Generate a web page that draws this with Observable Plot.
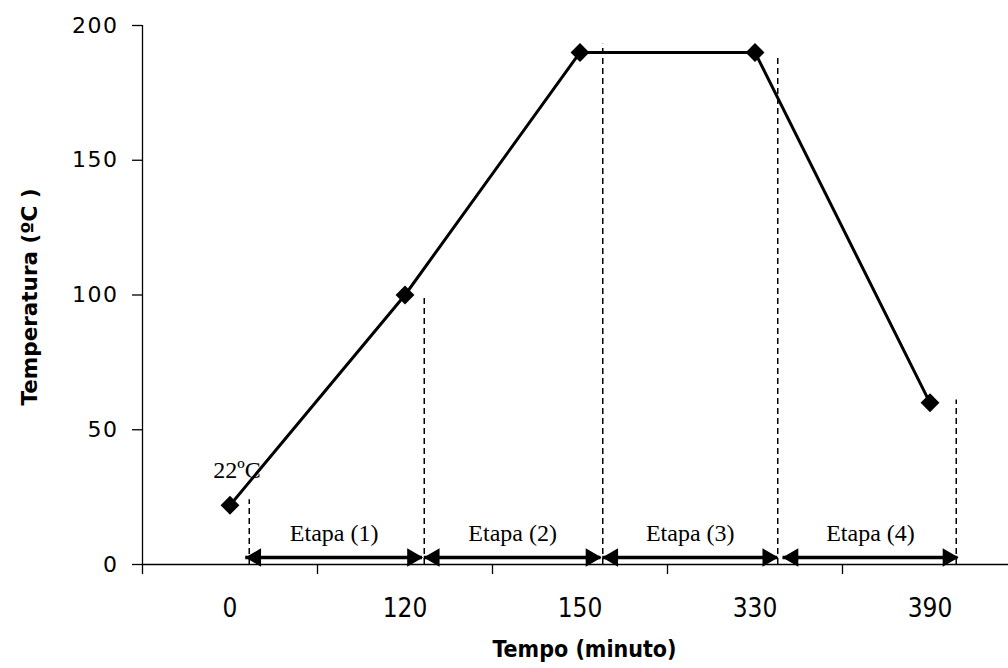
<!DOCTYPE html>
<html><head><meta charset="utf-8">
<script src="https://cdn.jsdelivr.net/npm/d3@7"></script>
<script src="https://cdn.jsdelivr.net/npm/@observablehq/plot@0.6"></script>
<style>
body{margin:0;background:#fff;}
#chart svg{display:block;}
g[aria-label="y-axis tick label"] text{letter-spacing:1.5px;}
</style></head><body><div id="chart"></div>
<script>
// categories (x) and values (y)
const tempo = ["0","120","150","330","390"];
const temperatura = [22,100,190,190,60];
const yTicks = [0,50,100,150,200];
// stages, positions expressed in category-index units
const etapas = ["Etapa (1)","Etapa (2)","Etapa (3)","Etapa (4)"];
const etapaInicio = [0.09,1.11,2.13,3.16];
const etapaFim = [1.10,2.12,3.13,4.16];
// dashed guides: position (category-index units) and top (ºC)
const guiaPos = [0.11,1.11,2.13,3.13,4.15];
const guiaTopo = [24,100,193,188,61];
const rotuloPonto = "22ºC";
const tituloX = "Tempo (minuto)";
const tituloY = "Temperatura (ºC )";

const pontos = tempo.map((t,i)=>({i, t, v: temperatura[i]}));
const fases = etapas.map((e,i)=>({e, x1: etapaInicio[i], x2: etapaFim[i], xm: (etapaInicio[i]+etapaFim[i])/2}));
const guias = guiaPos.map((x,i)=>({x, top: guiaTopo[i]}));
const limites = d3.range(tempo.length+1).map(k=>k-0.5);
const condensed = "'DejaVu Sans Condensed', 'Liberation Sans', sans-serif";

const chart = Plot.plot({
  width: 1008, height: 668,
  marginLeft: 142, marginRight: 0, marginTop: 25, marginBottom: 104,
  style: {background: "white", color: "black", fontFamily: "DejaVu Sans"},
  x: {type: "linear", domain: [-0.5, tempo.length - 0.5], range: [142, 1017]},
  y: {domain: [0, 200]},
  marks: [
    Plot.ruleX(guias, {x: "x", y1: 0, y2: "top", stroke: "black", strokeWidth: 1.5, strokeDasharray: "6,4"}),
    Plot.ruleX([-0.5], {stroke: "black", strokeWidth: 1.3}),
    Plot.ruleY([0], {stroke: "black", strokeWidth: 1.3}),
    Plot.axisY({ticks: yTicks, tickSize: 10, tickPadding: 14, fontSize: 22, fontFamily: "DejaVu Sans", strokeWidth: 1.3, label: null}),
    Plot.axisX({ticks: limites, tickSize: 10, strokeWidth: 1.3, tickFormat: () => "", label: null}),
    Plot.axisX({ticks: d3.range(tempo.length), tickSize: 0, tickPadding: 34, tickFormat: i => tempo[i], fontSize: 26, fontFamily: condensed, label: null}),
    Plot.ruleY(fases, {x1: "x1", x2: "x2", y: 0, dy: -7, stroke: "black", strokeWidth: 3.5}),
    Plot.dot(fases, {x: "x1", y: 0, symbol: "triangle", rotate: -90, r: 6.8, dx: 10, dy: -7, fill: "black", stroke: "none"}),
    Plot.dot(fases, {x: "x2", y: 0, symbol: "triangle", rotate: 90, r: 6.8, dx: -10, dy: -7, fill: "black", stroke: "none"}),
    Plot.text(fases, {x: "xm", y: 0, text: "e", dy: -31, fontSize: 24, fontFamily: "Liberation Serif", fill: "black"}),
    Plot.line(pontos, {x: "i", y: "v", stroke: "black", strokeWidth: 3}),
    Plot.dot(pontos, {x: "i", y: "v", symbol: "diamond2", r: 8.5, fill: "black", stroke: "none"}),
    Plot.text([pontos[0]], {x: "i", y: "v", text: () => rotuloPonto, dx: 7, dy: -35, fontSize: 24, fontFamily: "Liberation Serif", fill: "black"}),
    Plot.text([tituloX], {frameAnchor: "bottom", text: d => d, dx: 9, dy: 92, fontSize: 23, fontWeight: "bold", fontFamily: condensed, fill: "black"}),
    Plot.text([tituloY], {frameAnchor: "left", textAnchor: "middle", text: d => d, rotate: -90, dx: -112, dy: 2, fontSize: 21.5, fontWeight: "bold", fontFamily: "DejaVu Sans", fill: "black"})
  ]
});
document.getElementById("chart").appendChild(chart);
</script>
</body></html>
